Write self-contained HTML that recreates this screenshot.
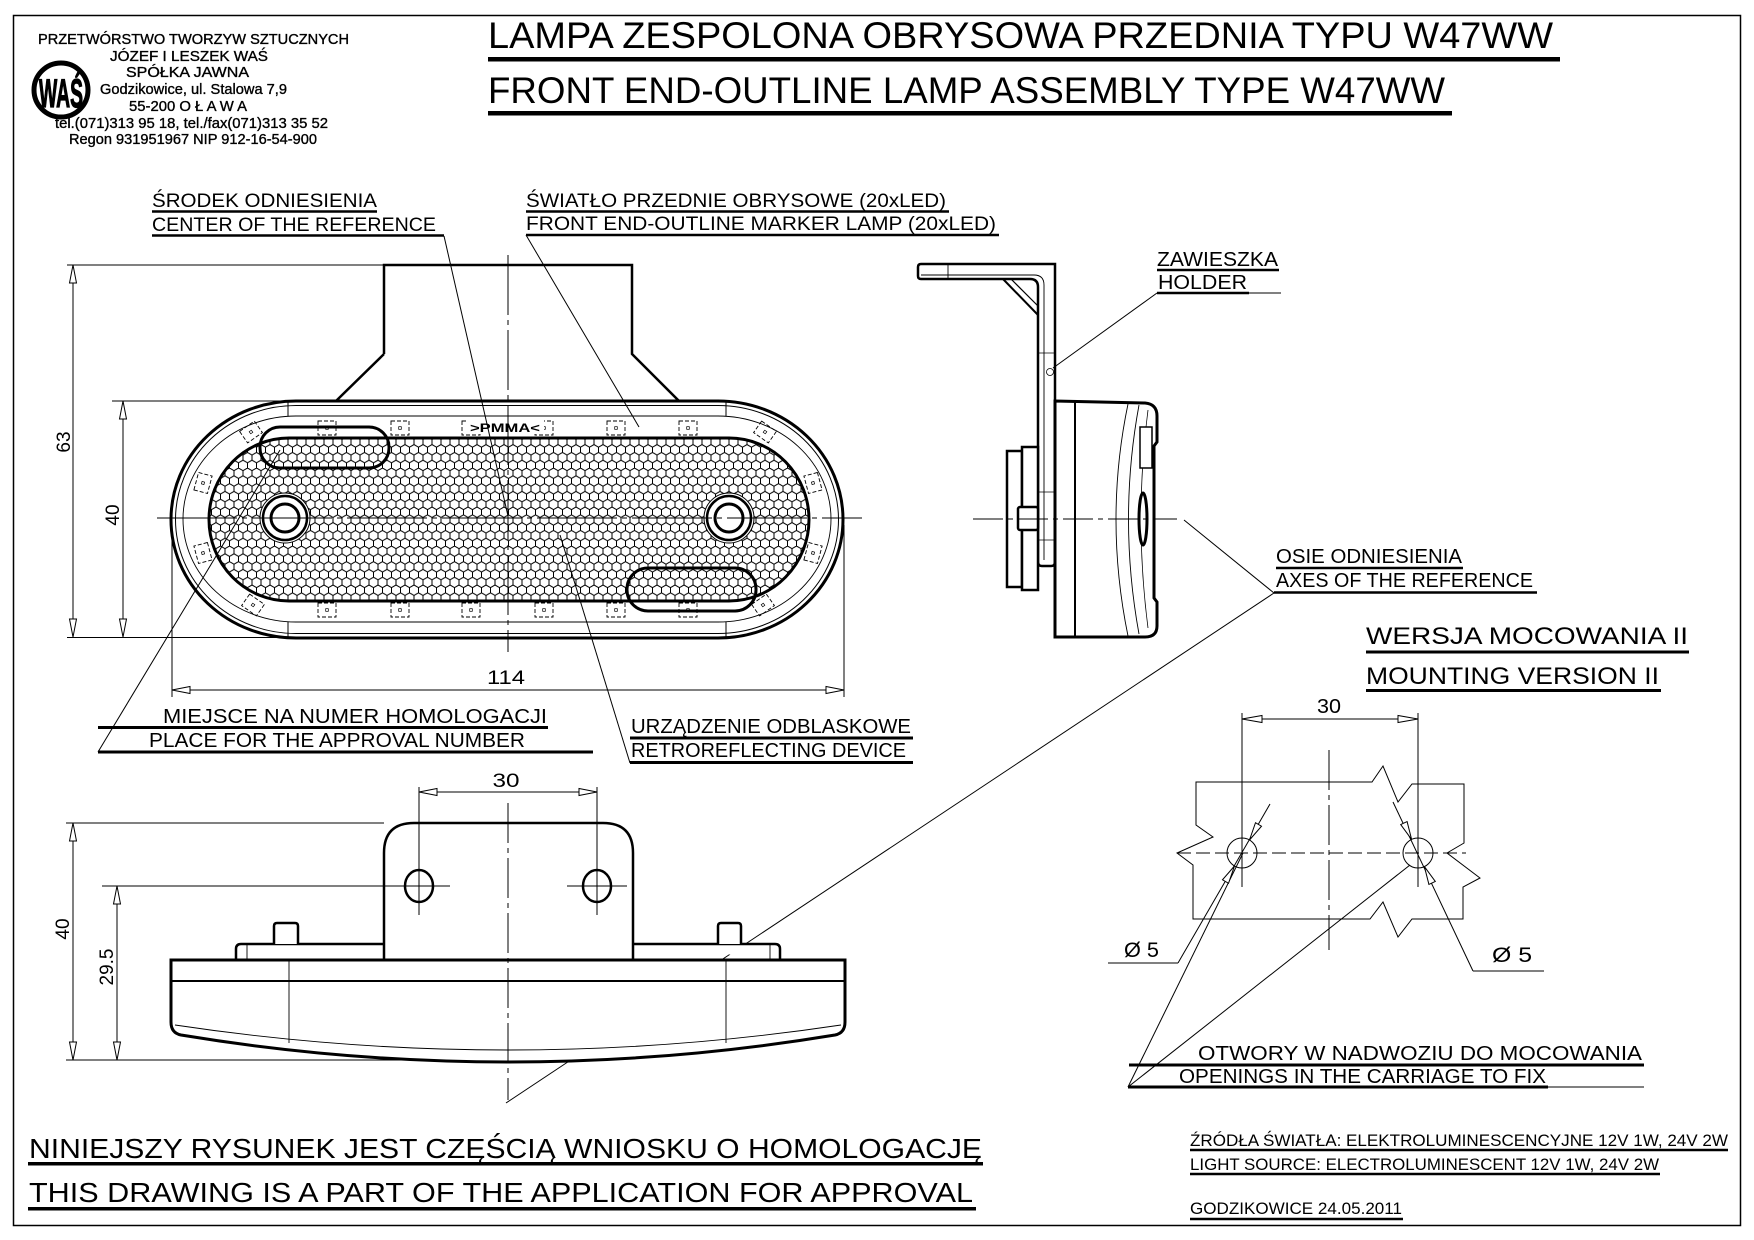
<!DOCTYPE html>
<html>
<head>
<meta charset="utf-8">
<style>
html,body{margin:0;padding:0;background:#fff;}
svg{display:block;}
text{font-family:"Liberation Sans","DejaVu Sans",sans-serif;fill:#000;}
</style>
</head>
<body>
<svg xmlns="http://www.w3.org/2000/svg" width="1754" height="1240" viewBox="0 0 1754 1240">
<defs>
<pattern id="hex" patternUnits="userSpaceOnUse" width="9" height="15.6">
<path d="M0,2.6 L4.5,0 L9,2.6 M0,2.6 V7.8 M9,2.6 V7.8 M0,7.8 L4.5,10.4 L9,7.8 M4.5,10.4 V15.6" fill="none" stroke="#000" stroke-width="1"/>
</pattern>
<g id="led"><rect x="-9" y="-7" width="18" height="14" fill="none" stroke="#000" stroke-width="0.9" stroke-dasharray="4 2"/><rect x="-1.3" y="-1.3" width="2.6" height="2.6" fill="none" stroke="#000" stroke-width="0.7"/></g>
</defs>
<rect width="1754" height="1240" fill="#fff"/>
<!-- border -->
<rect x="13.5" y="15.5" width="1727" height="1210" fill="none" stroke="#000" stroke-width="1.5"/>

<!-- company header -->
<g font-size="14.5" stroke="#000" stroke-width="0.35">
<text x="38" y="44" textLength="311" lengthAdjust="spacingAndGlyphs">PRZETWÓRSTWO TWORZYW SZTUCZNYCH</text>
<text x="110" y="61" textLength="158" lengthAdjust="spacingAndGlyphs">JÓZEF I LESZEK WAŚ</text>
<text x="126" y="77" textLength="123" lengthAdjust="spacingAndGlyphs">SPÓŁKA JAWNA</text>
<text x="100" y="94" textLength="187" lengthAdjust="spacingAndGlyphs">Godzikowice, ul. Stalowa 7,9</text>
<text x="129" y="111" textLength="118" lengthAdjust="spacingAndGlyphs">55-200   O Ł A W A</text>
<text x="55" y="128" textLength="273" lengthAdjust="spacingAndGlyphs">tel.(071)313 95 18, tel./fax(071)313 35 52</text>
<text x="69" y="144" textLength="248" lengthAdjust="spacingAndGlyphs">Regon 931951967 NIP 912-16-54-900</text>
</g>
<circle cx="61" cy="90" r="27" fill="none" stroke="#000" stroke-width="5"/>
<text transform="translate(39,107) scale(1,1.55)" font-size="26" font-weight="bold" textLength="44" lengthAdjust="spacingAndGlyphs" stroke="#000" stroke-width="0.8">WAŚ</text>

<!-- titles -->
<text x="488" y="48" font-size="37" textLength="1065" lengthAdjust="spacingAndGlyphs">LAMPA ZESPOLONA OBRYSOWA PRZEDNIA TYPU W47WW</text>
<rect x="488" y="57" width="1072" height="4.5"/>
<text x="488" y="103" font-size="37" textLength="957" lengthAdjust="spacingAndGlyphs">FRONT END-OUTLINE LAMP ASSEMBLY TYPE W47WW</text>
<rect x="488" y="111" width="964" height="4.5"/>

<!-- top labels -->
<g font-size="19.5">
<text x="152" y="207" textLength="225" lengthAdjust="spacingAndGlyphs">ŚRODEK ODNIESIENIA</text>
<text x="152" y="231" textLength="284" lengthAdjust="spacingAndGlyphs">CENTER OF THE REFERENCE</text>
<text x="526" y="207" textLength="420" lengthAdjust="spacingAndGlyphs">ŚWIATŁO PRZEDNIE OBRYSOWE (20xLED)</text>
<text x="526" y="230" textLength="470" lengthAdjust="spacingAndGlyphs">FRONT END-OUTLINE MARKER LAMP (20xLED)</text>
</g>
<g stroke="#000" stroke-width="2.5">
<line x1="152" y1="211.5" x2="377" y2="211.5"/>
<line x1="152" y1="235.5" x2="444" y2="235.5"/>
<line x1="526" y1="211.5" x2="949" y2="211.5"/>
<line x1="526" y1="235" x2="999" y2="235"/>
</g>

<!-- ===== FRONT VIEW ===== -->
<path d="M384,354 V265 H632 V354 L679,401 H336 L384,354" fill="#fff" stroke="#000" stroke-width="2.5"/>
<path d="M296,401 H718 A125 118.5 0 0 1 718,638 H296 A125 118.5 0 0 1 296,401 Z" fill="#fff" stroke="#000" stroke-width="3"/>
<path d="M296,405.5 H718 A120.5 114 0 0 1 718,633.5 H296 A120.5 114 0 0 1 296,405.5 Z" fill="none" stroke="#000" stroke-width="1"/>
<path d="M296,416 H718 A113 103 0 0 1 718,622 H296 A113 103 0 0 1 296,416 Z" fill="none" stroke="#000" stroke-width="0.9"/>
<line x1="288" y1="401" x2="288" y2="416" stroke="#000" stroke-width="1"/>
<line x1="726" y1="401" x2="726" y2="416" stroke="#000" stroke-width="1"/>
<line x1="288" y1="622" x2="288" y2="638" stroke="#000" stroke-width="1"/>
<line x1="726" y1="622" x2="726" y2="638" stroke="#000" stroke-width="1"/>
<!-- LEDs -->
<use href="#led" x="327" y="428"/><use href="#led" x="400" y="428"/><use href="#led" x="471" y="428"/>
<use href="#led" x="544" y="428"/><use href="#led" x="616" y="428"/><use href="#led" x="688" y="428"/>
<use href="#led" x="327" y="610"/><use href="#led" x="400" y="610"/><use href="#led" x="471" y="610"/>
<use href="#led" x="544" y="610"/><use href="#led" x="616" y="610"/><use href="#led" x="688" y="610"/>
<use href="#led" transform="translate(251,432) rotate(-35)"/>
<use href="#led" transform="translate(203,483) rotate(-75)"/>
<use href="#led" transform="translate(203,553) rotate(75)"/>
<use href="#led" transform="translate(253,605) rotate(35)"/>
<use href="#led" transform="translate(765,432) rotate(35)"/>
<use href="#led" transform="translate(813,483) rotate(75)"/>
<use href="#led" transform="translate(813,553) rotate(-75)"/>
<use href="#led" transform="translate(763,605) rotate(-35)"/>
<!-- reflector -->
<rect x="209" y="438" width="600" height="163" rx="80" ry="81.5" fill="#fff"/>
<rect x="209" y="438" width="600" height="163" rx="80" ry="81.5" fill="url(#hex)" stroke="#000" stroke-width="3"/>
<rect x="260" y="427" width="129" height="41" rx="20" fill="none" stroke="#000" stroke-width="3"/>
<rect x="627" y="568" width="129" height="43" rx="21" fill="none" stroke="#000" stroke-width="3"/>
<rect x="466" y="420" width="78" height="14" fill="#fff"/>
<text x="470" y="432" font-size="12" font-weight="bold" textLength="70" lengthAdjust="spacingAndGlyphs">&gt;PMMA&lt;</text>
<!-- holes -->
<g fill="#fff" stroke="#000">
<circle cx="285" cy="518" r="25" stroke-width="1"/>
<circle cx="285" cy="518" r="22" stroke-width="2.5"/>
<circle cx="285" cy="518" r="14" stroke-width="3"/>
<circle cx="729" cy="518" r="25" stroke-width="1"/>
<circle cx="729" cy="518" r="22" stroke-width="2.5"/>
<circle cx="729" cy="518" r="14" stroke-width="3"/>
</g>
<!-- centerlines -->
<line x1="508" y1="255" x2="508" y2="652" stroke="#000" stroke-width="1" stroke-dasharray="60 5 5 5"/>
<line x1="157" y1="518" x2="862" y2="518" stroke="#000" stroke-width="1" stroke-dasharray="80 5 5 5"/>
<!-- front dims -->
<g stroke="#000" stroke-width="1" fill="none">
<line x1="67" y1="265" x2="384" y2="265"/>
<line x1="112" y1="401" x2="296" y2="401"/>
<line x1="67" y1="637.5" x2="296" y2="637.5"/>
<line x1="73" y1="265" x2="73" y2="637"/>
<line x1="123" y1="401" x2="123" y2="637"/>
<line x1="172" y1="525" x2="172" y2="697"/>
<line x1="844" y1="525" x2="844" y2="697"/>
<line x1="172" y1="690" x2="844" y2="690"/>
</g>
<g fill="#fff" stroke="#000" stroke-width="1">
<polygon points="73,265 69.5,283 76.5,283"/><polygon points="73,637 69.5,619 76.5,619"/>
<polygon points="123,401 119.5,419 126.5,419"/><polygon points="123,637 119.5,619 126.5,619"/>
<polygon points="172,690 190,686.5 190,693.5"/><polygon points="844,690 826,686.5 826,693.5"/>
</g>
<text transform="translate(70,442) rotate(-90)" font-size="19" text-anchor="middle">63</text>
<text transform="translate(119,515) rotate(-90)" font-size="19" text-anchor="middle">40</text>
<text x="506" y="684" font-size="19" text-anchor="middle" textLength="38" lengthAdjust="spacingAndGlyphs">114</text>

<!-- leaders (front) -->
<g stroke="#000" stroke-width="1">
<line x1="444" y1="236" x2="508" y2="516"/>
<line x1="526" y1="235" x2="639" y2="427"/>
<line x1="98" y1="752" x2="280" y2="450"/>
<line x1="630" y1="763" x2="560" y2="535"/>
</g>

<!-- middle labels -->
<g font-size="20">
<text x="163" y="723" textLength="384" lengthAdjust="spacingAndGlyphs">MIEJSCE NA NUMER HOMOLOGACJI</text>
<text x="149" y="747" textLength="376" lengthAdjust="spacingAndGlyphs">PLACE FOR THE APPROVAL NUMBER</text>
<text x="631" y="733" textLength="280" lengthAdjust="spacingAndGlyphs">URZĄDZENIE ODBLASKOWE</text>
<text x="631" y="757" textLength="275" lengthAdjust="spacingAndGlyphs">RETROREFLECTING DEVICE</text>
</g>
<g stroke="#000" stroke-width="3">
<line x1="98" y1="727.5" x2="548" y2="727.5"/>
<line x1="98" y1="752" x2="593" y2="752"/>
<line x1="630" y1="738" x2="913" y2="738"/>
<line x1="630" y1="762.5" x2="913" y2="762.5"/>
</g>

<!-- ===== SIDE VIEW ===== -->
<path d="M921,264 H1055 V562 Q1055,566 1051,566 H1042 Q1038,566 1038,562 V287 Q1038,279 1030,279 H921 Q918,279 918,276 V267 Q918,264 921,264 Z" fill="#fff" stroke="#000" stroke-width="2.5"/>
<path d="M921,275 H1034 Q1044,275 1044,285 V560" fill="none" stroke="#000" stroke-width="0.9"/>
<line x1="948" y1="264" x2="948" y2="279" stroke="#000" stroke-width="0.9"/>
<line x1="1003" y1="279" x2="1038" y2="315" stroke="#000" stroke-width="2"/>
<line x1="1011" y1="279" x2="1038" y2="306" stroke="#000" stroke-width="1.2"/>
<line x1="1038" y1="353" x2="1055" y2="353" stroke="#000" stroke-width="0.8"/>
<circle cx="1050" cy="372" r="3.5" fill="none" stroke="#000" stroke-width="0.8"/>
<line x1="1038" y1="492" x2="1055" y2="492" stroke="#000" stroke-width="0.8"/>
<line x1="1038" y1="540" x2="1055" y2="540" stroke="#000" stroke-width="0.8"/>
<!-- back block -->
<rect x="1007" y="451" width="15" height="136" fill="#fff" stroke="#000" stroke-width="2.5"/>
<rect x="1022" y="447" width="16" height="143" fill="#fff" stroke="#000" stroke-width="2.5"/>
<rect x="1018" y="507" width="20" height="23" rx="2" fill="#fff" stroke="#000" stroke-width="2.5"/>
<!-- lamp body side -->
<path d="M1055,401 L1145,403 Q1157,404 1157,416 V442 L1154,446 V598 L1157,602 V626 Q1157,637 1145,637 H1055 Z" fill="#fff" stroke="#000" stroke-width="3"/>
<line x1="1075" y1="401" x2="1075" y2="637" stroke="#000" stroke-width="2"/>
<path d="M1128,404 Q1104,519 1128,636" fill="none" stroke="#000" stroke-width="0.9"/>
<path d="M1139,405 Q1118,519 1139,634" fill="none" stroke="#000" stroke-width="0.9"/>
<path d="M1148,410 Q1134,519 1148,628" fill="none" stroke="#000" stroke-width="0.8"/>
<rect x="1140" y="427" width="12" height="41" fill="#fff" stroke="#000" stroke-width="1.5"/>
<ellipse cx="1143" cy="519" rx="4" ry="26" fill="#fff" stroke="#000" stroke-width="3"/>
<line x1="973" y1="519" x2="1177" y2="519" stroke="#000" stroke-width="1" stroke-dasharray="30 5 5 5"/>
<!-- holder label -->
<g font-size="20">
<text x="1157" y="266" textLength="121" lengthAdjust="spacingAndGlyphs">ZAWIESZKA</text>
<text x="1158" y="289" textLength="89" lengthAdjust="spacingAndGlyphs">HOLDER</text>
</g>
<line x1="1157" y1="270" x2="1279" y2="270" stroke="#000" stroke-width="2.5"/>
<line x1="1157" y1="293" x2="1249" y2="293" stroke="#000" stroke-width="2.5"/>
<line x1="1249" y1="293" x2="1281" y2="293" stroke="#000" stroke-width="1"/>
<line x1="1157" y1="293" x2="1053" y2="368" stroke="#000" stroke-width="1"/>

<!-- axes label -->
<g font-size="20">
<text x="1276" y="563" textLength="186" lengthAdjust="spacingAndGlyphs">OSIE ODNIESIENIA</text>
<text x="1276" y="587" textLength="257" lengthAdjust="spacingAndGlyphs">AXES OF THE REFERENCE</text>
</g>
<line x1="1276" y1="568" x2="1463" y2="568" stroke="#000" stroke-width="2.5"/>
<line x1="1274" y1="592.5" x2="1537" y2="592.5" stroke="#000" stroke-width="2.5"/>
<line x1="1274" y1="593" x2="1184" y2="520" stroke="#000" stroke-width="1"/>
<line x1="1274" y1="593" x2="506" y2="1103" stroke="#000" stroke-width="1"/>

<g font-size="24.5">
<text x="1366" y="644" textLength="322" lengthAdjust="spacingAndGlyphs">WERSJA MOCOWANIA II</text>
<text x="1366" y="684" textLength="293" lengthAdjust="spacingAndGlyphs">MOUNTING VERSION II</text>
</g>
<line x1="1366" y1="652" x2="1689" y2="652" stroke="#000" stroke-width="3"/>
<line x1="1366" y1="690.5" x2="1661" y2="690.5" stroke="#000" stroke-width="3"/>

<!-- ===== BOTTOM VIEW ===== -->
<path d="M384,960 V853 Q384,823 414,823 H603 Q633,823 633,853 V960" fill="#fff" stroke="#000" stroke-width="2.5"/>
<ellipse cx="419" cy="886" rx="14" ry="16" fill="#fff" stroke="#000" stroke-width="2.5"/>
<ellipse cx="597" cy="886" rx="14" ry="16" fill="#fff" stroke="#000" stroke-width="2.5"/>
<g stroke="#000" stroke-width="1">
<line x1="389" y1="886" x2="450" y2="886"/>
<line x1="567" y1="886" x2="627" y2="886"/>
<line x1="419" y1="787" x2="419" y2="915"/>
<line x1="597" y1="787" x2="597" y2="915"/>
<line x1="419" y1="792" x2="597" y2="792"/>
</g>
<g fill="#fff" stroke="#000" stroke-width="1">
<polygon points="419,792 437,788.5 437,795.5"/><polygon points="597,792 579,788.5 579,795.5"/>
</g>
<text x="506" y="787" font-size="19" text-anchor="middle" textLength="27" lengthAdjust="spacingAndGlyphs">30</text>
<!-- flanges & studs -->
<path d="M384,944 H241 Q236,944 236,949 V960" fill="#fff" stroke="#000" stroke-width="2.5"/>
<path d="M633,944 H775 Q780,944 780,949 V960" fill="#fff" stroke="#000" stroke-width="2.5"/>
<line x1="247" y1="944" x2="247" y2="960" stroke="#000" stroke-width="0.9"/>
<line x1="770" y1="944" x2="770" y2="960" stroke="#000" stroke-width="0.9"/>
<path d="M274,944 V926 Q274,923 277,923 H295 Q298,923 298,926 V944" fill="#fff" stroke="#000" stroke-width="2.5"/>
<path d="M718,944 V926 Q718,923 721,923 H738 Q741,923 741,926 V944" fill="#fff" stroke="#000" stroke-width="2.5"/>
<!-- body -->
<path d="M171,960 V1022 Q171,1033 181,1035 Q508,1089 835,1035 Q845,1033 845,1022 V960 Z" fill="#fff" stroke="#000" stroke-width="3"/>
<line x1="171" y1="960" x2="845" y2="960" stroke="#000" stroke-width="3"/>
<line x1="171" y1="981" x2="845" y2="981" stroke="#000" stroke-width="2"/>
<path d="M175,1025 Q508,1075 841,1025" fill="none" stroke="#000" stroke-width="0.9"/>
<line x1="289" y1="960" x2="289" y2="1043" stroke="#000" stroke-width="0.9"/>
<line x1="726" y1="960" x2="726" y2="1043" stroke="#000" stroke-width="0.9"/>
<line x1="508" y1="803" x2="508" y2="1100" stroke="#000" stroke-width="1" stroke-dasharray="40 5 5 5"/>
<!-- bottom dims -->
<g stroke="#000" stroke-width="1">
<line x1="66" y1="823" x2="384" y2="823"/>
<line x1="66" y1="1060" x2="420" y2="1060"/>
<line x1="102" y1="886" x2="389" y2="886"/>
<line x1="73" y1="823" x2="73" y2="1060"/>
<line x1="117" y1="886" x2="117" y2="1060"/>
</g>
<g fill="#fff" stroke="#000" stroke-width="1">
<polygon points="73,823 69.5,841 76.5,841"/><polygon points="73,1060 69.5,1042 76.5,1042"/>
<polygon points="117,886 113.5,904 120.5,904"/><polygon points="117,1060 113.5,1042 120.5,1042"/>
</g>
<text transform="translate(69,929) rotate(-90)" font-size="19" text-anchor="middle">40</text>
<text transform="translate(113,967) rotate(-90)" font-size="19" text-anchor="middle">29.5</text>

<!-- ===== MOUNTING DETAIL ===== -->
<path d="M1372,782 L1196,782 L1196,825 L1213,837 L1177,853 L1193,865 L1193,919 L1370,919 L1383,902 L1398,937 L1412,919 L1463,919 L1463,887 L1480,878 L1447,853 L1464,843 L1464,784 L1412,784 L1398,802 L1383,766 Z" fill="#fff" stroke="#000" stroke-width="1"/>
<g stroke="#000" stroke-width="1" fill="none">
<line x1="1242" y1="713" x2="1242" y2="887"/>
<line x1="1418" y1="713" x2="1418" y2="887"/>
<line x1="1242" y1="719" x2="1418" y2="719"/>
<line x1="1329" y1="750" x2="1329" y2="950" stroke-dasharray="40 5 5 5"/>
<line x1="1177" y1="853" x2="1466" y2="853" stroke-dasharray="14 5"/>
<circle cx="1242" cy="853" r="15"/>
<circle cx="1418" cy="853" r="15"/>
<line x1="1108" y1="963" x2="1178" y2="963"/>
<line x1="1178" y1="963" x2="1270" y2="804"/>
<line x1="1473" y1="971" x2="1544" y2="971"/>
<line x1="1473" y1="971" x2="1393" y2="802"/>
<line x1="1128" y1="1087" x2="1243" y2="853"/>
<line x1="1128" y1="1087" x2="1410" y2="865"/>
</g>
<g fill="#fff" stroke="#000" stroke-width="1">
<polygon points="1418,719 1398,715.5 1398,722.5"/><polygon points="1242,719 1262,715.5 1262,722.5"/>
<polygon points="1249.5,840 1261.5,826.2 1255.5,822.7"/>
<polygon points="1234.5,866 1228.5,883.3 1222.5,879.8"/>
<polygon points="1411.6,839.4 1407.1,821.6 1400.7,824.6"/>
<polygon points="1424.4,866.6 1435.3,881.4 1428.9,884.4"/>
</g>
<text x="1329" y="713" font-size="20" text-anchor="middle" textLength="24" lengthAdjust="spacingAndGlyphs">30</text>
<text x="1124" y="957" font-size="21" textLength="35" lengthAdjust="spacingAndGlyphs">Ø 5</text>
<text x="1492" y="962" font-size="21" textLength="40" lengthAdjust="spacingAndGlyphs">Ø 5</text>

<!-- openings label -->
<g font-size="20">
<text x="1198" y="1060" textLength="444" lengthAdjust="spacingAndGlyphs">OTWORY W NADWOZIU DO MOCOWANIA</text>
<text x="1179" y="1083" textLength="367" lengthAdjust="spacingAndGlyphs">OPENINGS IN THE CARRIAGE TO FIX</text>
</g>
<line x1="1129" y1="1065" x2="1644" y2="1065" stroke="#000" stroke-width="3"/>
<line x1="1128" y1="1087" x2="1548" y2="1087" stroke="#000" stroke-width="3"/>
<line x1="1548" y1="1087" x2="1644" y2="1087" stroke="#000" stroke-width="1"/>

<!-- light source -->
<g font-size="17">
<text x="1190" y="1146" textLength="538" lengthAdjust="spacingAndGlyphs">ŹRÓDŁA ŚWIATŁA: ELEKTROLUMINESCENCYJNE  12V  1W, 24V  2W</text>
<text x="1190" y="1170" textLength="469" lengthAdjust="spacingAndGlyphs">LIGHT SOURCE: ELECTROLUMINESCENT  12V  1W, 24V  2W</text>
<text x="1190" y="1214" textLength="212" lengthAdjust="spacingAndGlyphs">GODZIKOWICE 24.05.2011</text>
</g>
<line x1="1190" y1="1150" x2="1728" y2="1150" stroke="#000" stroke-width="2.5"/>
<line x1="1190" y1="1174" x2="1660" y2="1174" stroke="#000" stroke-width="2.5"/>
<line x1="1190" y1="1219" x2="1403" y2="1219" stroke="#000" stroke-width="2.5"/>

<!-- bottom-left statement -->
<g font-size="28">
<text x="29" y="1158" textLength="953" lengthAdjust="spacingAndGlyphs">NINIEJSZY RYSUNEK JEST CZĘŚCIĄ WNIOSKU O  HOMOLOGACJĘ</text>
<text x="29" y="1202" textLength="944" lengthAdjust="spacingAndGlyphs">THIS DRAWING IS A PART OF THE APPLICATION FOR  APPROVAL</text>
</g>
<rect x="28" y="1162" width="955" height="3.5"/>
<rect x="28" y="1207" width="948" height="3.5"/>
</svg>
</body>
</html>
